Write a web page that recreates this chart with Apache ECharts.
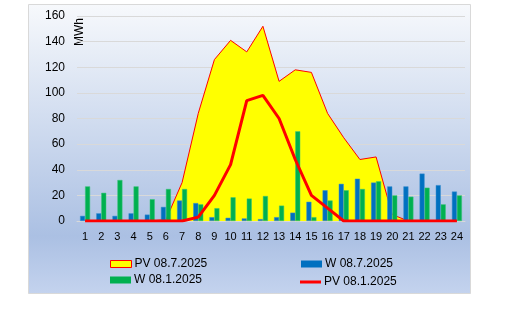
<!DOCTYPE html>
<html><head><meta charset="utf-8">
<script src="https://cdn.jsdelivr.net/npm/echarts@6/dist/echarts.min.js"></script>
<style>html,body{margin:0;padding:0;background:#fff}#c{width:513px;height:325px}</style>
</head><body><div id="c"></div>
<script>
var hours = ['1','2','3','4','5','6','7','8','9','10','11','12','13','14','15','16','17','18','19','20','21','22','23','24'];
var pvJul = [0,0,0,0,0,1,30,84,126,141,132,152,109,118,116,84,65,48,50,5,0,0,0,0];
var wJul = [4,6,4,6,5,11,16,14,3,2.5,2,1.5,3,6.5,15,24,29,33,30,27,27,37,28,23];
var wJan = [27,22,32,27,17,25,25,13,10,18.5,17.5,19.5,12,70,3,16,24,25,31,20,19,26,13,20];
var pvJan = [0,0,0,0,0,0,0,3,20,44,94,98,80,48,20,10,0,0,0,0,0,0,0,0];
var yTicks = [0,20,40,60,80,100,120,140,160];

var chart = echarts.init(document.getElementById('c'));
var font = 'Liberation Sans, Arial, sans-serif';
function leg(name, left, top, h, style) {
  return {data:[{name:name, icon:'rect', itemStyle: style}], left:left, top:top, itemWidth:21, itemHeight:h,
    padding:0, itemGap:0, textStyle:{fontFamily:font, fontSize:12, color:'#000', padding:[0,0,0,-2]}, selectedMode:false};
}
chart.setOption({
  animation:false,
  graphic:[{type:'rect', z:-10, shape:{x:28.5,y:4.5,width:442,height:289},
    style:{stroke:'#d9d9d9', lineWidth:1,
      fill:new echarts.graphic.LinearGradient(0,0,0,1,[{offset:0,color:'#f7f9fc'},{offset:0.8,color:'#abc0e3'},{offset:1,color:'#c4d3ee'}])}},
    {type:'text', rotation:Math.PI/2, x:74, y:18, style:{text:'MWh', fontFamily:font, fontSize:12, fill:'#000', textAlign:'right', textVerticalAlign:'top'}}],
  legend:[
    leg('PV 08.7.2025', 110, 258, 7, {color:'#ffff00', borderColor:'#ff0000', borderWidth:1}),
    leg('W 08.7.2025', 301, 258, 7, {color:'#0070c0', borderWidth:0}),
    leg('W 08.1.2025', 110, 274, 7, {color:'#00b050', borderWidth:0}),
    leg('PV 08.1.2025', 300, 276, 3, {color:'#ff0000', borderWidth:0})
  ],
  grid:{left:77, right:48, top:16, bottom:104},
  xAxis:{type:'category', data:hours, boundaryGap:true,
    axisLine:{lineStyle:{color:'#d9d9d9'}}, axisTick:{show:false},
    axisLabel:{fontFamily:font, fontSize:11, color:'#000', margin:10}},
  yAxis:{type:'value', min:0, max:160, interval:20,
    axisLabel:{fontFamily:font, fontSize:12, color:'#000', margin:12,
      formatter:function(v){return yTicks.indexOf(v)>=0?String(v):'';}},
    splitLine:{lineStyle:{color:'#d9d9d9'}}, axisLine:{show:false}, axisTick:{show:false}},
  series:[
    {name:'PV 08.7.2025', type:'line', data:pvJul, showSymbol:false, z:1,
      lineStyle:{color:'#ff0000', width:1}, itemStyle:{color:'#ffff00'}, areaStyle:{color:'#ffff00', opacity:1}},
    {name:'W 08.7.2025', type:'bar', data:wJul, barWidth:5, barGap:'0%', z:2,
      itemStyle:{color:'#0070c0', borderColor:'#3d8fd0', borderWidth:0.5}},
    {name:'W 08.1.2025', type:'bar', data:wJan, barWidth:5, barGap:'0%', z:2,
      itemStyle:{color:'#00b050', borderColor:'#3cc47a', borderWidth:0.5}},
    {name:'PV 08.1.2025', type:'line', data:pvJan, showSymbol:false, z:3,
      lineStyle:{color:'#ff0000', width:3}, itemStyle:{color:'#ff0000'}}
  ]
});
</script></body></html>
